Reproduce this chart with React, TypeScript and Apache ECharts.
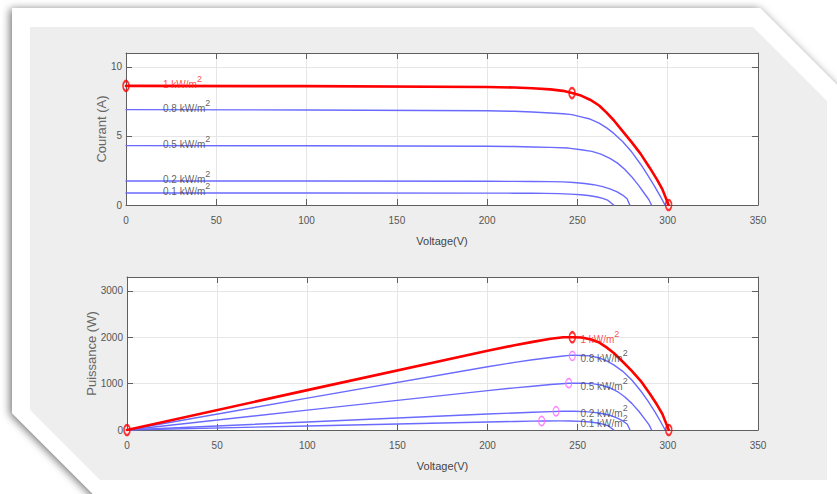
import React, { useEffect, useRef } from "react";
import * as echarts from "echarts";

// Irradiance levels (kW/m²)
const irradiance = ["1", "0.8", "0.5", "0.2", "0.1"];

// 1 kW/m²
const v100 = [0, 100, 200, 215, 225, 235, 242, 247, 252, 257, 262, 266, 270, 275, 280, 285, 290, 294, 297, 300.5];
const i100 = [8.62, 8.6, 8.54, 8.5, 8.45, 8.37, 8.26, 8.1, 7.92, 7.62, 7.2, 6.7, 6.15, 5.35, 4.55, 3.7, 2.7, 1.85, 1.15, 0];
const p100 = [0, 860, 1708, 1828, 1901, 1967, 1999, 2001, 1996, 1958, 1886, 1782, 1661, 1471, 1274, 1055, 783, 544, 342, 0];

// 0.8 kW/m²
const v80 = [0, 100, 200, 215, 225, 235, 242, 247, 252, 257, 262, 266, 270, 275, 280, 285, 289, 293, 296, 298.5];
const i80 = [6.9, 6.88, 6.82, 6.78, 6.73, 6.66, 6.6, 6.54, 6.38, 6.22, 5.93, 5.6, 5.2, 4.6, 3.85, 2.95, 2.15, 1.3, 0.6, 0];
const p80 = [0, 688, 1364, 1458, 1514, 1565, 1597, 1615, 1608, 1599, 1554, 1490, 1404, 1265, 1078, 841, 621, 381, 178, 0];

// 0.5 kW/m²
const v50 = [0, 100, 200, 215, 225, 235, 245, 252, 258, 263, 268, 272, 276, 280, 284, 287, 289.5, 291];
const i50 = [4.3, 4.29, 4.25, 4.23, 4.2, 4.17, 4.12, 4.0, 3.88, 3.68, 3.38, 3.05, 2.6, 2.05, 1.4, 0.85, 0.4, 0];
const p50 = [0, 429, 850, 909, 945, 980, 1009, 1008, 1001, 968, 906, 830, 718, 574, 398, 244, 116, 0];

// 0.2 kW/m²
const v20 = [0, 100, 200, 215, 225, 235, 242, 248, 254, 259, 264, 268, 272, 275, 277.5, 279];
const i20 = [1.74, 1.74, 1.72, 1.71, 1.7, 1.69, 1.67, 1.63, 1.56, 1.47, 1.33, 1.17, 0.95, 0.72, 0.45, 0];
const p20 = [0, 174, 344, 368, 383, 397, 404, 404, 396, 381, 351, 314, 258, 198, 125, 0];

// 0.1 kW/m²
const v10 = [0, 100, 200, 215, 225, 232, 240, 246, 252, 257, 261, 264, 267, 270];
const i10 = [0.87, 0.87, 0.86, 0.855, 0.85, 0.84, 0.82, 0.79, 0.74, 0.67, 0.58, 0.48, 0.33, 0];
const p10 = [0, 87, 172, 184, 191, 195, 197, 194, 186, 172, 151, 127, 88, 0];

// Marked points
const redMarkV = [0, 247, 300.5];
const redMarkI = [8.62, 8.1, 0];
const redMarkP = [0, 2001, 0];
const mppV = [247, 245, 238, 230];
const mppP = [1600, 1009, 404, 194];

// Label anchor values
const labelIV_V = 20.5;
const labelIV_I = [8.75, 7.0, 4.4, 1.85, 0.95];
const labelPV_V = 251.5;
const labelPV_P = [1950, 1550, 930, 350, 130];

const FONT = "'Liberation Sans', Arial, sans-serif";

const curvesV = [v100, v80, v50, v20, v10];
const curvesI = [i100, i80, i50, i20, i10];
const curvesP = [p100, p80, p50, p20, p10];

const pairs = (xs: number[], ys: number[]) => xs.map((x, k) => [x, ys[k]]);

export default function App() {
  const ref = useRef<HTMLDivElement>(null);
  useEffect(() => {
    if (!ref.current) return;
    const chart = echarts.init(ref.current, null, { renderer: "svg" });
    const axisColor = "#5f5f5f";
    const gridColor = "#e6e6e6";
    const xBottom = (gi: number) => ({
      type: "value",
      gridIndex: gi,
      min: 0,
      max: 350,
      interval: 50,
      position: "bottom",
      name: "Voltage(V)",
      nameLocation: "middle",
      nameGap: 30,
      nameMoveOverlap: false,
      nameTextStyle: { fontFamily: FONT, fontSize: 11, color: "#444" },
      axisLine: { show: true, onZero: false, lineStyle: { color: axisColor, width: 1 } },
      axisTick: { show: true, inside: true, length: 6, lineStyle: { color: axisColor } },
      axisLabel: { fontFamily: FONT, fontSize: 10, color: "#555", margin: 10 },
      splitLine: { show: true, lineStyle: { color: gridColor, width: 1 } },
    });
    const xTop = (gi: number) => ({
      type: "value",
      gridIndex: gi,
      min: 0,
      max: 350,
      interval: 50,
      position: "top",
      axisLine: { show: true, onZero: false, lineStyle: { color: axisColor, width: 1 } },
      axisTick: { show: true, inside: true, length: 6, lineStyle: { color: axisColor } },
      axisLabel: { show: false },
      splitLine: { show: false },
    });
    const yLeft = (gi: number, max: number, interval: number, name: string, nameGap: number) => ({
      type: "value",
      gridIndex: gi,
      min: 0,
      max,
      interval,
      position: "left",
      name,
      nameLocation: "middle",
      nameGap,
      nameRotate: 90,
      nameMoveOverlap: false,
      nameTextStyle: { fontFamily: FONT, fontSize: 13, color: "#666" },
      axisLine: { show: true, onZero: false, lineStyle: { color: axisColor, width: 1 } },
      axisTick: { show: true, inside: true, length: 6, lineStyle: { color: axisColor } },
      axisLabel: {
        fontFamily: FONT,
        fontSize: 10,
        color: "#555",
        margin: 4,
        formatter: (v: number) => (v % interval === 0 ? String(v) : ""),
      },
      splitLine: { show: true, lineStyle: { color: gridColor, width: 1 } },
    });
    const yRight = (gi: number, max: number, interval: number) => ({
      type: "value",
      gridIndex: gi,
      min: 0,
      max,
      interval,
      position: "right",
      axisLine: { show: true, onZero: false, lineStyle: { color: axisColor, width: 1 } },
      axisTick: { show: true, inside: true, length: 6, lineStyle: { color: axisColor } },
      axisLabel: { show: false },
      splitLine: { show: false },
    });

    const lineSeries: any[] = [];
    for (let c = curvesV.length - 1; c >= 0; c--) {
      const isRed = c === 0;
      const ls = {
        color: isRed ? "#ff0000" : "#6a6aff",
        width: isRed ? 2.6 : 1.4,
        cap: "round",
        join: "round",
      };
      lineSeries.push({
        type: "line",
        xAxisIndex: 0,
        yAxisIndex: 0,
        data: pairs(curvesV[c], curvesI[c]),
        showSymbol: false,
        lineStyle: ls,
        silent: true,
        z: isRed ? 4 : 3,
      });
      lineSeries.push({
        type: "line",
        xAxisIndex: 2,
        yAxisIndex: 2,
        data: pairs(curvesV[c], curvesP[c]),
        showSymbol: false,
        lineStyle: ls,
        silent: true,
        z: isRed ? 4 : 3,
      });
    }

    const labelFmt = (p: any) => `{m|${p.name} kW/m}{s|2}`;
    const richFor = (color: string) => ({
      m: { fontFamily: FONT, fontSize: 10, color },
      s: { fontFamily: FONT, fontSize: 9, color, padding: [0, 0, 11, 0] },
    });
    const labelData = (vx: number, ys: number[]) =>
      irradiance.map((name, k) => ({
        name,
        value: [vx, ys[k]],
        label: {
          color: k === 0 ? "#ff2020" : "#3a3a3a",
          rich: richFor(k === 0 ? "#ff2020" : "#3a3a3a"),
        },
      }));
    const labelSeries = (xi: number, yi: number, vx: number, ys: number[]) => ({
      type: "scatter",
      xAxisIndex: xi,
      yAxisIndex: yi,
      symbolSize: 0,
      silent: true,
      z: 6,
      data: labelData(vx, ys),
      label: {
        show: true,
        position: "right",
        distance: 0,
        formatter: labelFmt,
        fontFamily: FONT,
        fontSize: 10,
      },
    });

    const markerStyle = (color: string, w: number) => ({
      color: "rgba(0,0,0,0)",
      borderColor: color,
      borderWidth: w,
    });

    const option: any = {
      animation: false,
      backgroundColor: "#ffffff",
      graphic: [
        {
          type: "polygon",
          z: -10,
          shape: { points: [[12, 8], [760, 8], [870, 118], [870, 530], [129, 530], [12, 413]] },
          style: {
            fill: "#ffffff",
            shadowBlur: 9,
            shadowColor: "rgba(0,0,0,0.55)",
            shadowOffsetX: -2,
            shadowOffsetY: 1,
          },
        },
        {
          type: "polygon",
          z: -9,
          shape: { points: [[30, 27], [753, 27], [827, 101], [827, 480], [100, 480], [30, 410]] },
          style: { fill: "#eeeeee" },
        },
      ],
      grid: [
        { left: 126, top: 53, width: 632, height: 152, show: true, backgroundColor: "#ffffff", borderWidth: 0 },
        { left: 127, top: 277, width: 631, height: 153, show: true, backgroundColor: "#ffffff", borderWidth: 0 },
      ],
      xAxis: [xBottom(0), xTop(0), xBottom(1), xTop(1)],
      yAxis: [
        yLeft(0, 11, 5, "Courant (A)", 18),
        yRight(0, 11, 5),
        yLeft(1, 3300, 1000, "Puissance (W)", 29),
        yRight(1, 3300, 1000),
      ],
      series: [
        ...lineSeries,
        {
          type: "scatter",
          xAxisIndex: 0,
          yAxisIndex: 0,
          symbol: "circle",
          symbolSize: [6, 10],
          silent: true,
          z: 5,
          itemStyle: markerStyle("#ff0000", 2),
          data: pairs(redMarkV, redMarkI),
        },
        {
          type: "scatter",
          xAxisIndex: 2,
          yAxisIndex: 2,
          symbol: "circle",
          symbolSize: [6, 10],
          silent: true,
          z: 5,
          itemStyle: markerStyle("#ff0000", 2),
          data: pairs(redMarkV, redMarkP),
        },
        {
          type: "scatter",
          xAxisIndex: 2,
          yAxisIndex: 2,
          symbol: "circle",
          symbolSize: [6, 9],
          silent: true,
          z: 5,
          itemStyle: markerStyle("#ff66ff", 1.4),
          data: pairs(mppV, mppP),
        },
        labelSeries(0, 0, labelIV_V, labelIV_I),
        labelSeries(2, 2, labelPV_V, labelPV_P),
      ],
    };
    chart.setOption(option);
    return () => chart.dispose();
  }, []);
  return (
    <div
      ref={ref}
      style={{ position: "fixed", left: 0, top: 0, width: 837, height: 494 }}
    />
  );
}
